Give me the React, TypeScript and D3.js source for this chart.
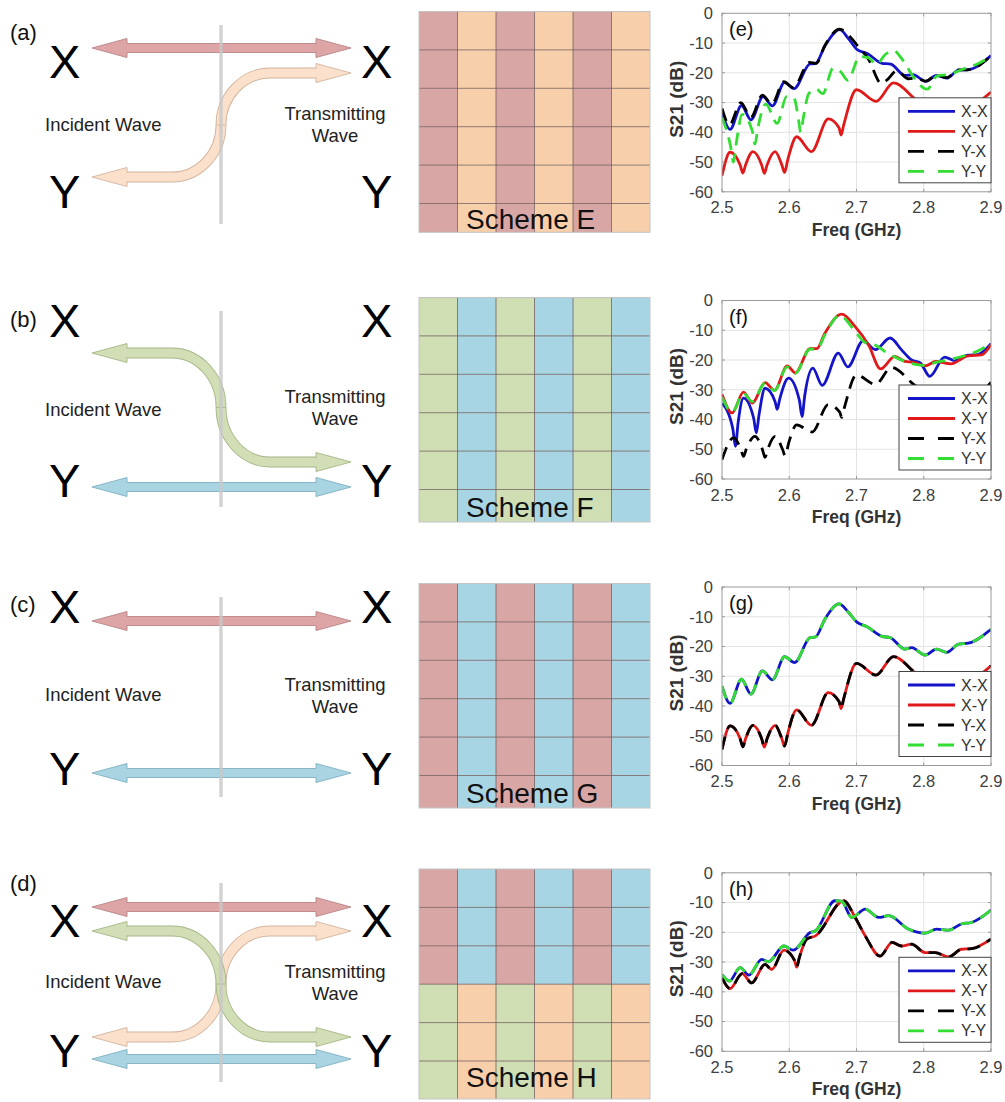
import React, { useEffect } from 'react';
import * as d3 from 'd3';

// ---------- measured S21 curves, [frequency GHz, dB] ----------
// Scheme E
const eXX: [number, number][] = [
  [2.5, -33.3], [2.512, -39.0], [2.529, -31.0], [2.543, -35.8], [2.561, -28.0], [2.575, -31.1],
  [2.593, -23.2], [2.607, -25.3], [2.631, -17.0], [2.639, -16.9], [2.653, -11.0], [2.675, -5.5],
  [2.688, -8.5], [2.701, -12.2], [2.716, -13.5], [2.738, -16.8], [2.751, -17.1], [2.772, -20.9],
  [2.784, -20.6], [2.803, -22.9], [2.819, -20.9], [2.834, -21.8], [2.852, -19.1], [2.865, -19.0],
  [2.9, -14.2],
];
const eXY: [number, number][] = [
  [2.5, -54.6], [2.512, -46.7], [2.527, -51.0], [2.531, -53.7], [2.535, -51.0], [2.546, -46.5],
  [2.559, -51.0], [2.563, -53.8], [2.567, -51.0], [2.579, -46.5], [2.589, -51.0], [2.593, -53.5],
  [2.598, -49.0], [2.611, -41.5], [2.633, -46.5], [2.658, -35.5], [2.674, -38.5], [2.677, -40.9],
  [2.681, -37.5], [2.7, -25.7], [2.729, -29.6], [2.755, -23.4], [2.787, -28.8], [2.82, -35.0],
  [2.86, -33.0], [2.9, -26.5],
];
const eYX: [number, number][] = [
  [2.5, -32.0], [2.511, -37.5], [2.528, -30.0], [2.543, -35.0], [2.56, -27.5], [2.574, -30.5],
  [2.592, -23.0], [2.606, -25.0], [2.63, -16.5], [2.64, -16.8], [2.653, -10.8], [2.675, -5.3],
  [2.69, -7.8], [2.7, -10.5], [2.718, -15.5], [2.737, -23.6], [2.745, -22.5], [2.76, -19.3],
  [2.777, -22.0], [2.79, -21.8], [2.803, -22.8], [2.819, -20.8], [2.834, -21.6], [2.852, -19.0],
  [2.865, -19.0], [2.9, -14.3],
];
const eYY: [number, number][] = [
  [2.5, -35.0], [2.513, -45.0], [2.517, -50.0], [2.521, -44.0], [2.53, -34.0], [2.545, -39.5],
  [2.549, -44.0], [2.553, -39.0], [2.565, -30.5], [2.582, -37.0], [2.596, -28.0], [2.607, -28.5],
  [2.614, -36.0], [2.617, -40.0], [2.621, -35.0], [2.629, -27.0], [2.64, -25.5], [2.65, -27.0],
  [2.665, -18.5], [2.676, -19.5], [2.687, -22.5], [2.705, -14.5], [2.718, -15.0], [2.73, -17.2],
  [2.742, -14.0], [2.755, -12.5], [2.768, -15.5], [2.785, -21.5], [2.805, -25.5], [2.82, -21.0],
  [2.838, -20.5], [2.858, -18.8], [2.878, -17.2], [2.9, -14.5],
];

// Scheme F
const fXX: [number, number][] = [
  [2.5, -34.5], [2.516, -43.0], [2.52, -49.0], [2.524, -41.0], [2.532, -32.8], [2.547, -39.5],
  [2.551, -44.5], [2.555, -38.5], [2.564, -29.5], [2.579, -34.0], [2.582, -36.6], [2.586, -33.0],
  [2.599, -26.1], [2.615, -33.5], [2.619, -39.0], [2.623, -32.0], [2.635, -22.7], [2.649, -28.5],
  [2.673, -17.7], [2.687, -22.3], [2.71, -13.5], [2.728, -16.5], [2.75, -12.6], [2.767, -16.6],
  [2.782, -20.0], [2.795, -21.0], [2.809, -25.5], [2.831, -19.0], [2.846, -20.2], [2.866, -18.4],
  [2.88, -18.2], [2.9, -14.5],
];
const fXY: [number, number][] = [
  [2.5, -31.5], [2.515, -37.8], [2.532, -30.8], [2.545, -34.5], [2.564, -27.6], [2.578, -30.2],
  [2.597, -22.0], [2.609, -24.3], [2.631, -16.2], [2.641, -16.2], [2.653, -11.0], [2.678, -4.6],
  [2.698, -8.8], [2.718, -15.0], [2.736, -23.0], [2.757, -18.8], [2.772, -20.5], [2.785, -20.8],
  [2.802, -22.0], [2.818, -20.5], [2.84, -21.3], [2.866, -18.6], [2.886, -18.3], [2.9, -14.8],
];
const fYX: [number, number][] = [
  [2.5, -53.5], [2.517, -46.2], [2.528, -50.0], [2.532, -52.4], [2.536, -50.0], [2.549, -45.7],
  [2.56, -50.0], [2.564, -52.7], [2.568, -50.0], [2.579, -45.7], [2.59, -50.0], [2.594, -52.2],
  [2.599, -48.0], [2.611, -41.8], [2.634, -44.2], [2.658, -35.0], [2.675, -37.5], [2.678, -39.3],
  [2.682, -36.0], [2.7, -25.0], [2.728, -28.2], [2.752, -22.5], [2.787, -28.5], [2.83, -34.0],
  [2.87, -33.0], [2.9, -27.5],
];
const fYY: [number, number][] = [
  [2.5, -32.5], [2.515, -37.5], [2.532, -31.2], [2.545, -34.0], [2.564, -27.8], [2.578, -30.3],
  [2.597, -22.3], [2.609, -24.5], [2.631, -16.3], [2.641, -16.5], [2.653, -11.5], [2.675, -5.0],
  [2.695, -9.5], [2.712, -14.0], [2.728, -15.0], [2.745, -17.5], [2.77, -20.3], [2.8, -21.8],
  [2.818, -20.8], [2.84, -19.8], [2.862, -18.5], [2.88, -17.0], [2.9, -14.2],
];

// Scheme G (co-polarised pair and cross-polarised pair coincide)
const gCo: [number, number][] = [
  [2.5, -33.3], [2.512, -39.1], [2.529, -31.0], [2.543, -36.0], [2.56, -28.2], [2.575, -31.2],
  [2.593, -23.4], [2.608, -25.4], [2.631, -17.0], [2.639, -16.8], [2.653, -10.8], [2.674, -5.7],
  [2.688, -8.5], [2.701, -11.9], [2.715, -13.3], [2.738, -16.6], [2.75, -17.0], [2.772, -20.9],
  [2.782, -20.4], [2.802, -22.9], [2.819, -20.9], [2.834, -22.0], [2.852, -19.2], [2.866, -18.9],
  [2.9, -14.2],
];
const gCross: [number, number][] = [
  [2.5, -54.6], [2.512, -46.7], [2.527, -51.0], [2.531, -53.7], [2.535, -51.0], [2.546, -46.5],
  [2.559, -51.0], [2.563, -53.8], [2.567, -51.0], [2.579, -46.5], [2.589, -51.0], [2.593, -53.5],
  [2.598, -49.0], [2.611, -41.3], [2.633, -46.5], [2.658, -35.5], [2.674, -38.5], [2.677, -40.9],
  [2.681, -37.5], [2.7, -25.7], [2.729, -29.6], [2.755, -23.4], [2.787, -28.8], [2.82, -35.0],
  [2.86, -33.0], [2.9, -26.5],
];

// Scheme H
const hCo: [number, number][] = [
  [2.5, -34.2], [2.511, -36.4], [2.527, -31.9], [2.54, -34.4], [2.559, -29.1], [2.569, -29.9],
  [2.592, -24.6], [2.606, -26.0], [2.631, -20.1], [2.639, -19.5], [2.668, -9.4], [2.678, -9.6],
  [2.693, -15.0], [2.713, -12.2], [2.733, -15.0], [2.748, -14.4], [2.777, -18.9], [2.802, -20.3],
  [2.819, -18.9], [2.837, -19.3], [2.856, -17.2], [2.871, -16.7], [2.9, -12.5],
];
const hCross: [number, number][] = [
  [2.5, -35.3], [2.512, -38.9], [2.53, -33.9], [2.544, -37.0], [2.564, -30.8], [2.574, -32.5],
  [2.592, -26.0], [2.608, -29.5], [2.611, -31.7], [2.615, -28.5], [2.626, -22.3], [2.639, -21.2],
  [2.681, -9.4], [2.698, -15.0], [2.713, -21.2], [2.735, -28.0], [2.753, -23.4], [2.767, -24.6],
  [2.782, -24.0], [2.802, -26.8], [2.817, -26.8], [2.837, -28.3], [2.856, -25.7], [2.871, -25.5],
  [2.9, -22.3],
];

const FREQ_TICKS = [2.5, 2.6, 2.7, 2.8, 2.9];
const DB_TICKS = [0, -10, -20, -30, -40, -50, -60];
const SERIES_NAMES = ['X-X', 'X-Y', 'Y-X', 'Y-Y'];
const PANEL_TAGS = ['(e)', '(f)', '(g)', '(h)'];
const PANEL_DATA = [
  [eXX, eXY, eYX, eYY],
  [fXX, fXY, fYX, fYY],
  [gCo, gCross, gCross, gCo],
  [hCo, hCross, hCross, hCo],
];

// Unit-cell layouts: R red, O orange, G green, B blue
const SCHEME_NAMES = ['Scheme E', 'Scheme F', 'Scheme G', 'Scheme H'];
const SCHEME_CELLS = [
  ['RORORO', 'RORORO', 'RORORO', 'RORORO', 'RORORO', 'RORORO'],
  ['GBGBGB', 'GBGBGB', 'GBGBGB', 'GBGBGB', 'GBGBGB', 'GBGBGB'],
  ['RBRBRB', 'RBRBRB', 'RBRBRB', 'RBRBRB', 'RBRBRB', 'RBRBRB'],
  ['RBRBRB', 'RBRBRB', 'RBRBRB', 'GOGOGO', 'GOGOGO', 'GOGOGO'],
];
const DIAGRAM_TAGS = ['(a)', '(b)', '(c)', '(d)'];

// ---------- styling / layout ----------
const FONT = '"Liberation Sans", Arial, Helvetica, sans-serif';
const LINE_COLORS = ['#1414c8', '#e01a1a', '#000000', '#33dd33'];
const LINE_DASH = [null, null, '13,8', '13,8'];

const CELL_FILL: Record<string, string> = { R: '#d9a6a6', O: '#f8cfab', G: '#cfdeb3', B: '#a8d5e3' };
const ARROW_STYLE: Record<string, { fill: string; stroke: string }> = {
  R: { fill: '#dda5a5', stroke: '#b98585' },
  O: { fill: '#fbdfc8', stroke: '#cfae96' },
  G: { fill: '#cfdcb0', stroke: '#9fb07e' },
  B: { fill: '#a9d5e3', stroke: '#7fb0c2' },
};

const PX0 = 722;
const PX1 = 991;
const PH = 178.5;
const PLOT_TOPS = [13.3, 300.5, 587, 872.8];

const GRID_X0 = 419;
const GRID_CELL_W = 38.5;
const GRID_CELL_H = 38.4;
const GRID_TOPS = [11.5, 297.5, 583.5, 869];
const GRID_BOTTOMS = [232.3, 522, 808, 1099];
const GRID_TEXT_Y = [229, 517, 803, 1087];

type Curve = { c: string; y1: number; y2: number };
type Row = {
  tagY: number; lineTop: number; lineBot: number; xBase: number; yBase: number;
  incY: number; trY: number; straight: { c: string; y: number }[]; curves: Curve[];
};
const ROWS: Row[] = [
  { tagY: 40, lineTop: 25, lineBot: 224, xBase: 78, yBase: 208, incY: 131, trY: 120,
    straight: [{ c: 'R', y: 48 }], curves: [{ c: 'O', y1: 177, y2: 73 }] },
  { tagY: 327, lineTop: 311, lineBot: 507, xBase: 337, yBase: 497, incY: 416, trY: 403,
    straight: [{ c: 'B', y: 487 }], curves: [{ c: 'G', y1: 353, y2: 462 }] },
  { tagY: 612, lineTop: 597, lineBot: 797, xBase: 623, yBase: 785, incY: 701, trY: 691,
    straight: [{ c: 'R', y: 621 }, { c: 'B', y: 773 }], curves: [] },
  { tagY: 891, lineTop: 883, lineBot: 1082, xBase: 937, yBase: 1067, incY: 988, trY: 978,
    straight: [{ c: 'R', y: 907 }, { c: 'B', y: 1059 }],
    curves: [{ c: 'O', y1: 1037, y2: 931 }, { c: 'G', y1: 931, y2: 1037 }] },
];

const AX_L = 92;
const AX_R = 351;
const AX_MID = 221;
const SHAFT = 4.5;
const HEAD = 9.5;
const HEAD_LEN = 35;

function StraightArrow({ y, c }: { y: number; c: string }) {
  const s = ARROW_STYLE[c];
  const pts: [number, number][] = [
    [AX_L, y], [AX_L + HEAD_LEN, y - HEAD], [AX_L + HEAD_LEN, y - SHAFT], [AX_R - HEAD_LEN, y - SHAFT],
    [AX_R - HEAD_LEN, y - HEAD], [AX_R, y], [AX_R - HEAD_LEN, y + HEAD], [AX_R - HEAD_LEN, y + SHAFT],
    [AX_L + HEAD_LEN, y + SHAFT], [AX_L + HEAD_LEN, y + HEAD],
  ];
  return <polygon points={pts.map((p) => p.join(',')).join(' ')} fill={s.fill} stroke={s.stroke} strokeWidth={0.9} />;
}

function Head({ tipX, y, dir, c }: { tipX: number; y: number; dir: number; c: string }) {
  const s = ARROW_STYLE[c];
  const bx = tipX + dir * HEAD_LEN;
  const poly: [number, number][] = [[bx, y - HEAD], [tipX, y], [bx, y + HEAD]];
  const edge: [number, number][] = [[bx, y - SHAFT], [bx, y - HEAD], [tipX, y], [bx, y + HEAD], [bx, y + SHAFT]];
  return (
    <g>
      <polygon points={poly.map((p) => p.join(',')).join(' ')} fill={s.fill} />
      <polyline points={edge.map((p) => p.join(',')).join(' ')} fill="none" stroke={s.stroke} strokeWidth={0.9} />
    </g>
  );
}

function CurvedArrow({ c, y1, y2 }: Curve) {
  const s = ARROW_STYLE[c];
  const rx = 49;
  const ym = (y1 + y2) / 2;
  const k = 0.55;
  const p = d3.path();
  p.moveTo(AX_L + HEAD_LEN - 2, y1);
  p.lineTo(AX_MID - rx, y1);
  p.bezierCurveTo(AX_MID - rx + k * rx, y1, AX_MID, ym - k * (ym - y1), AX_MID, ym);
  p.bezierCurveTo(AX_MID, ym + k * (y2 - ym), AX_MID + rx - k * rx, y2, AX_MID + rx, y2);
  p.lineTo(AX_R - HEAD_LEN + 2, y2);
  const d = p.toString();
  return (
    <g opacity={0.92}>
      <path d={d} fill="none" stroke={s.stroke} strokeWidth={SHAFT * 2 + 1.8} />
      <path d={d} fill="none" stroke={s.fill} strokeWidth={SHAFT * 2} />
      <Head tipX={AX_L} y={y1} dir={1} c={c} />
      <Head tipX={AX_R} y={y2} dir={-1} c={c} />
      <line x1={AX_MID - 5} x2={AX_MID + 5} y1={ym} y2={ym} stroke={s.stroke} strokeWidth={0.8} />
    </g>
  );
}

function Diagram({ row, tag }: { row: Row; tag: string }) {
  return (
    <g fontFamily={FONT}>
      <text x={10} y={row.tagY} fontSize={22} fill="#111">{tag}</text>
      {row.straight.map((a, i) => <StraightArrow key={'s' + i} y={a.y} c={a.c} />)}
      {row.curves.map((a, i) => <CurvedArrow key={'c' + i} {...a} />)}
      <line x1={AX_MID} x2={AX_MID} y1={row.lineTop} y2={row.lineBot} stroke="#c9c9c9" strokeWidth={3.5} opacity={0.8} />
      <text x={49} y={row.xBase} fontSize={47} fill="#000">X</text>
      <text x={361} y={row.xBase} fontSize={47} fill="#000">X</text>
      <text x={49} y={row.yBase} fontSize={47} fill="#000">Y</text>
      <text x={361} y={row.yBase} fontSize={47} fill="#000">Y</text>
      <text x={45} y={row.incY} fontSize={18.5} fill="#222">Incident Wave</text>
      <text x={335} y={row.trY} fontSize={18.5} fill="#222" textAnchor="middle">Transmitting</text>
      <text x={335} y={row.trY + 21.5} fontSize={18.5} fill="#222" textAnchor="middle">Wave</text>
    </g>
  );
}

function SchemeGrid({ idx }: { idx: number }) {
  const top = GRID_TOPS[idx];
  const bottom = GRID_BOTTOMS[idx];
  const cells = SCHEME_CELLS[idx];
  const clipId = 'gridclip' + idx;
  const w = GRID_CELL_W * 6;
  return (
    <g>
      <defs>
        <clipPath id={clipId}>
          <rect x={GRID_X0} y={top} width={w} height={bottom - top} />
        </clipPath>
      </defs>
      <g clipPath={`url(#${clipId})`}>
        {cells.map((rowStr, r) =>
          rowStr.split('').map((ch, col) => (
            <rect key={r + '-' + col} x={GRID_X0 + col * GRID_CELL_W} y={top + r * GRID_CELL_H}
              width={GRID_CELL_W} height={GRID_CELL_H} fill={CELL_FILL[ch]} />
          ))
        )}
        {d3.range(1, 6).map((i) => (
          <line key={'v' + i} x1={GRID_X0 + i * GRID_CELL_W} x2={GRID_X0 + i * GRID_CELL_W} y1={top} y2={bottom}
            stroke="#6d5a58" strokeOpacity={0.75} strokeWidth={1} />
        ))}
        {d3.range(1, 6).map((i) => (
          <line key={'h' + i} x1={GRID_X0} x2={GRID_X0 + w} y1={top + i * GRID_CELL_H} y2={top + i * GRID_CELL_H}
            stroke="#6d5a58" strokeOpacity={0.75} strokeWidth={1} />
        ))}
      </g>
      <rect x={GRID_X0} y={top} width={w} height={bottom - top} fill="none" stroke="#c4c4c4" strokeWidth={1} />
      <text x={466} y={GRID_TEXT_Y[idx]} fontFamily={FONT} fontSize={28} fill="#111">{SCHEME_NAMES[idx]}</text>
    </g>
  );
}

function S21Plot({ idx }: { idx: number }) {
  const top = PLOT_TOPS[idx];
  const x = d3.scaleLinear().domain([2.5, 2.9]).range([PX0, PX1]);
  const y = d3.scaleLinear().domain([-60, 0]).range([top + PH, top]);
  const line = d3.line<[number, number]>().x((d) => x(d[0])).y((d) => y(d[1])).curve(d3.curveMonotoneX);
  const clipId = 'plotclip' + idx;
  const legTop = top + 84.5;
  const legH = 85;
  const legL = 899;
  return (
    <g fontFamily={FONT}>
      <defs>
        <clipPath id={clipId}>
          <rect x={PX0} y={top} width={PX1 - PX0} height={PH} />
        </clipPath>
      </defs>
      <rect x={PX0} y={top} width={PX1 - PX0} height={PH} fill="#fff" />
      {FREQ_TICKS.slice(1, -1).map((t) => (
        <line key={'gx' + t} x1={x(t)} x2={x(t)} y1={top} y2={top + PH} stroke="#e3e3e3" strokeWidth={1} />
      ))}
      {DB_TICKS.slice(1, -1).map((t) => (
        <line key={'gy' + t} x1={PX0} x2={PX1} y1={y(t)} y2={y(t)} stroke="#e3e3e3" strokeWidth={1} />
      ))}
      <g clipPath={`url(#${clipId})`}>
        {PANEL_DATA[idx].map((s, i) => (
          <path key={i} d={line(s) || ''} fill="none" stroke={LINE_COLORS[i]} strokeWidth={2.8}
            strokeDasharray={LINE_DASH[i] || undefined} strokeLinejoin="round" />
        ))}
      </g>
      <rect x={PX0} y={top} width={PX1 - PX0} height={PH} fill="none" stroke="#9a9a9a" strokeWidth={1} />
      {FREQ_TICKS.map((t) => (
        <g key={'tx' + t}>
          <line x1={x(t)} x2={x(t)} y1={top + PH} y2={top + PH - 3} stroke="#9a9a9a" />
          <line x1={x(t)} x2={x(t)} y1={top} y2={top + 3} stroke="#9a9a9a" />
          <text x={x(t)} y={top + PH + 21.5} fontSize={16.5} fill="#404040" textAnchor="middle">{t.toFixed(1)}</text>
        </g>
      ))}
      {DB_TICKS.map((t) => (
        <g key={'ty' + t}>
          <line x1={PX0} x2={PX0 + 3} y1={y(t)} y2={y(t)} stroke="#9a9a9a" />
          <line x1={PX1} x2={PX1 - 3} y1={y(t)} y2={y(t)} stroke="#9a9a9a" />
          <text x={713} y={y(t)} dy="0.35em" fontSize={16.5} fill="#404040" textAnchor="end">{t === 0 ? '0' : String(t)}</text>
        </g>
      ))}
      <text x={(PX0 + PX1) / 2} y={top + PH + 44} fontSize={17.5} fontWeight="bold" fill="#333" textAnchor="middle">Freq (GHz)</text>
      <text transform={`translate(683,${top + 86}) rotate(-90)`} fontSize={19} fontWeight="bold" fill="#333" textAnchor="middle">S21 (dB)</text>
      <text x={729} y={top + 23} fontSize={20} fill="#111">{PANEL_TAGS[idx]}</text>
      <rect x={legL} y={legTop} width={PX1 - legL} height={legH} fill="#fff" stroke="#444" strokeWidth={1} />
      {SERIES_NAMES.map((n, i) => {
        const ly = legTop + 13.5 + i * 20;
        return (
          <g key={n}>
            <line x1={908} x2={955} y1={ly} y2={ly} stroke={LINE_COLORS[i]} strokeWidth={2.8}
              strokeDasharray={LINE_DASH[i] ? '16,14' : undefined} />
            <text x={961} y={ly} dy="0.35em" fontSize={16} fill="#333">{n}</text>
          </g>
        );
      })}
    </g>
  );
}

export default function App() {
  useEffect(() => {
    document.body.style.margin = '0';
    document.body.style.overflow = 'hidden';
  }, []);
  return (
    <svg width={1005} height={1102} style={{ position: 'absolute', left: 0, top: 0, display: 'block', background: '#fff' }}>
      <rect x={0} y={0} width={1005} height={1102} fill="#fff" />
      {ROWS.map((r, i) => <Diagram key={'d' + i} row={r} tag={DIAGRAM_TAGS[i]} />)}
      {SCHEME_NAMES.map((_, i) => <SchemeGrid key={'g' + i} idx={i} />)}
      {PLOT_TOPS.map((_, i) => <S21Plot key={'p' + i} idx={i} />)}
    </svg>
  );
}
